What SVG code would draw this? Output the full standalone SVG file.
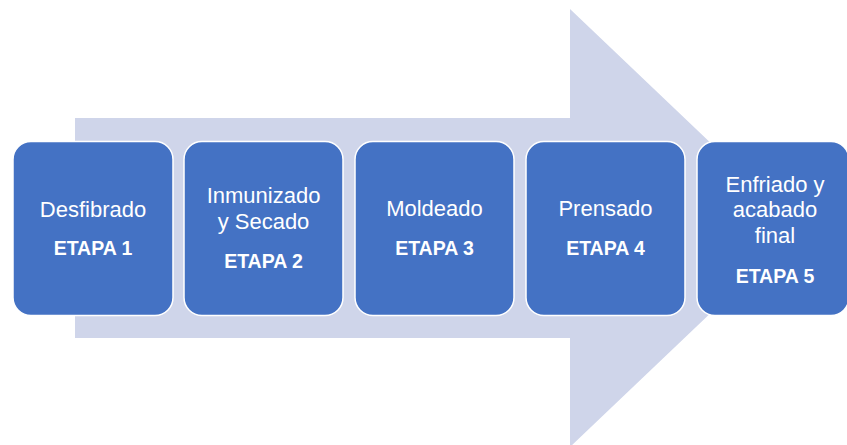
<svg xmlns="http://www.w3.org/2000/svg" width="847" height="445" viewBox="0 0 847 445">
<style>
.box{fill:#4472C4;stroke:#ffffff;stroke-width:1.5}
.t{font-family:"Liberation Sans",Arial,sans-serif;font-size:22px;fill:#ffffff;text-anchor:middle}
.b{font-family:"Liberation Sans",Arial,sans-serif;font-size:19.5px;font-weight:bold;fill:#ffffff;text-anchor:middle}
</style>
<rect width="847" height="445" fill="#ffffff"/>
<g id="connectors">
<polygon points="75,118 570,118 570,9 800,228 570,447 570,338 75,338" fill="#CFD5EA"/>
</g>
<g id="node1">
<rect class="box" x="13" y="141.5" width="160" height="174" rx="18"/>
<text class="t" x="93" y="217">Desfibrado</text>
<text class="b" x="93" y="255">ETAPA 1</text>
</g>
<g id="node2">
<rect class="box" x="184" y="141.5" width="159" height="174" rx="18"/>
<text class="t" x="263.5" y="203">Inmunizado</text>
<text class="t" x="263.5" y="229">y Secado</text>
<text class="b" x="263.5" y="268">ETAPA 2</text>
</g>
<g id="node3">
<rect class="box" x="355" y="141.5" width="159" height="174" rx="18"/>
<text class="t" x="434.5" y="216">Moldeado</text>
<text class="b" x="434.5" y="255">ETAPA 3</text>
</g>
<g id="node4">
<rect class="box" x="526" y="141.5" width="159" height="174" rx="18"/>
<text class="t" x="605.5" y="216">Prensado</text>
<text class="b" x="605.5" y="255">ETAPA 4</text>
</g>
<g id="node5">
<rect class="box" x="697" y="141.5" width="152" height="174" rx="18"/>
<text class="t" x="775" y="192">Enfriado y</text>
<text class="t" x="775" y="217">acabado</text>
<text class="t" x="775" y="243">final</text>
<text class="b" x="775" y="283">ETAPA 5</text>
</g>
</svg>
